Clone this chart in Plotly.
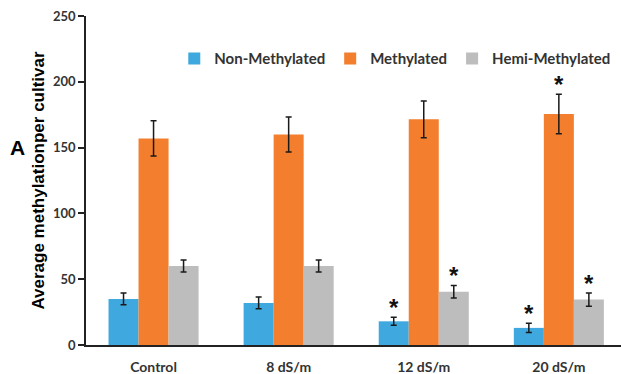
import plotly.graph_objects as go

# Salinity treatments shown along the x axis
categories = ["Control", "8 dS/m", "12 dS/m", "20 dS/m"]

# Mean methylation counts per cultivar and their standard errors
non_methylated = [35, 32, 18, 13]
non_methylated_err = [4.5, 4.5, 3, 3.5]
methylated = [157, 160, 171.5, 175.5]
methylated_err = [13.4, 13.3, 14, 15]
hemi_methylated = [60, 60, 40.5, 34.5]
hemi_methylated_err = [4.5, 4.5, 4.8, 5]

# Significant differences from control (series index, category index)
significant = [(0, 2), (2, 2), (0, 3), (1, 3), (2, 3)]

series = [
    ("Non-Methylated", non_methylated, non_methylated_err, "#3FA8DE"),
    ("Methylated", methylated, methylated_err, "#F27E2E"),
    ("Hemi-Methylated", hemi_methylated, hemi_methylated_err, "#BDBDBD"),
]

xpos = list(range(len(categories)))
bar_w = 0.2222
offsets = [-bar_w, 0.0, bar_w]

fig = go.Figure()
for k, (name, vals, errs, color) in enumerate(series):
    fig.add_trace(go.Bar(
        name=name,
        x=[x + offsets[k] for x in xpos],
        y=vals,
        width=bar_w,
        marker=dict(color=color, line=dict(width=0)),
        error_y=dict(type="data", array=errs, visible=True,
                     color="#1a1a1a", thickness=1.5, width=3),
    ))

for s, c in significant:
    vals, errs = series[s][1], series[s][2]
    fig.add_annotation(
        x=xpos[c] + offsets[s], y=vals[c] + errs[c],
        xref="x", yref="y", text="<b>*</b>", showarrow=False,
        yanchor="bottom", yshift=-6,
        font=dict(family="Liberation Sans", size=24, color="#111111"),
    )

# Panel letter, left of the y-axis title
fig.add_annotation(
    x=-0.145, y=150, xref="paper", yref="y", xanchor="left",
    text="<b>A</b>", showarrow=False,
    font=dict(family="Liberation Sans", size=21, color="#000000"),
)

fig.update_layout(
    width=621, height=374,
    margin=dict(l=86, r=0, t=16, b=29),
    paper_bgcolor="white", plot_bgcolor="white",
    barmode="overlay",
    showlegend=True,
    legend=dict(
        orientation="h", x=0.165, y=0.87, xanchor="left", yanchor="middle",
        font=dict(family="Lato", size=15, color="#333333", weight="bold"),
        bgcolor="rgba(0,0,0,0)", itemwidth=30,
    ),
    xaxis=dict(
        range=[-0.5, 3.46], tickvals=xpos, ticktext=categories,
        showline=True, linecolor="#222222", linewidth=1.5,
        ticks="", showgrid=False, zeroline=False,
        tickfont=dict(family="Lato", size=14, color="#333333", weight="bold"),
        ticklabelstandoff=8,
    ),
    yaxis=dict(
        range=[0, 250], tickvals=[0, 50, 100, 150, 200, 250],
        showline=True, linecolor="#222222", linewidth=1.5,
        ticks="outside", ticklen=6, tickcolor="#222222", tickwidth=1.5,
        showgrid=False, zeroline=False,
        tickfont=dict(family="Lato", size=13, color="#333333", weight="bold"),
        title=dict(text="<b>Average methylationper cultivar</b>",
                   font=dict(family="Liberation Sans", size=17, color="#000000"),
                   standoff=4),
    ),
)

fig.write_html("out.html")
